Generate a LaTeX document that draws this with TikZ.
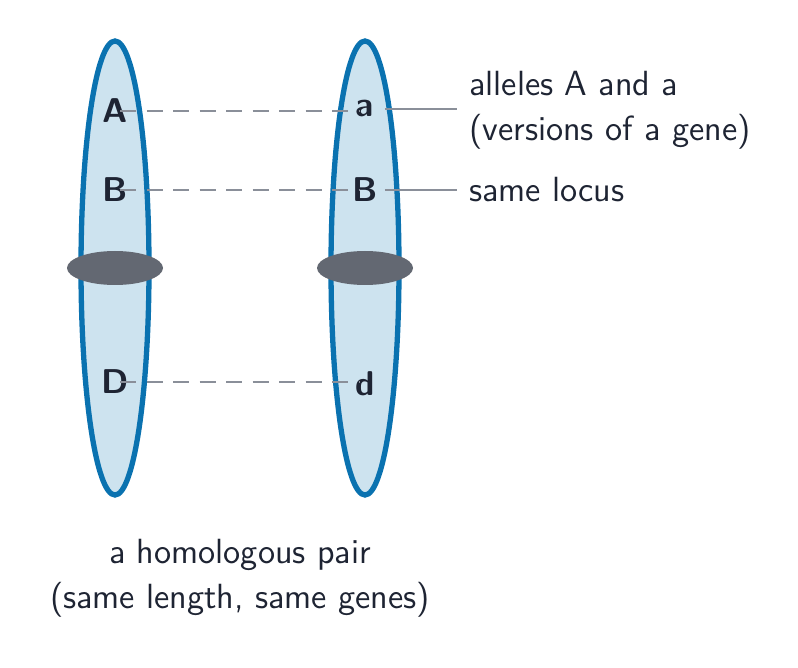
\documentclass[tikz,border=0pt]{standalone}
\usepackage{tikz}
\definecolor{chromfill}{HTML}{CDE3EF}
\definecolor{chromline}{HTML}{0A72B0}
\definecolor{centro}{HTML}{636872}
\definecolor{ink}{HTML}{1E2433}
\definecolor{guide}{HTML}{8A8F99}
\tikzset{
  gene/.style={font=\sffamily\bfseries\fontsize{13}{16}\selectfont, text=ink, inner sep=0pt},
  note/.style={font=\sffamily\fontsize{13.2}{17}\selectfont, text=ink, align=left, anchor=west},
  locus/.style={guide, dash pattern=on 6pt off 4pt, line width=0.8pt},
  pointer/.style={guide, line width=0.8pt},
}
\begin{document}
\begin{tikzpicture}[x=0.01328cm, y=-0.01328cm]
\useasboundingbox (0,0) rectangle (798,668);
%chromosomes
\foreach \cx in {115,365} {
  \draw[chromline, fill=chromfill, line width=2pt] (\cx,268) ellipse (34 and 227);
  \fill[centro] (\cx,268) ellipse (48 and 17);
}
%genes
\node[gene] (A1) at (115,111) {A};
\node[gene] (B1) at (115,190) {B};
\node[gene] (D1) at (115,382) {D};
\node[gene] (A2) at (365,109) {a};
\node[gene] (B2) at (365,190) {B};
\node[gene] (D2) at (365,384) {d};
\draw[locus] ([xshift=2pt]A1.center) -- ([xshift=-2pt]A2.center |- A1.center);
\draw[locus] ([xshift=2pt]B1.center) -- ([xshift=-2pt]B2.center);
\draw[locus] ([xshift=2pt]D1.center) -- ([xshift=-2pt]D2.center |- D1.center);
%notes
\node[note] (alleles) at (460,110) {alleles A and a\\(versions of a gene)};
\node[note] (same) at (460,190) {same locus};
\coordinate (p1) at (alleles.west |- A2);
\coordinate (p2) at (same.west |- B2);
\draw[pointer] ([xshift=7.5pt]A2.center) -- ([xshift=-1pt]p1);
\draw[pointer] ([xshift=7.5pt]B2.center) -- ([xshift=-1pt]p2);
\node[font=\sffamily\fontsize{13.2}{17}\selectfont, text=ink, align=center] (pair) at (240,578)
  {a homologous pair\\(same length, same genes)};
\end{tikzpicture}
\end{document}
